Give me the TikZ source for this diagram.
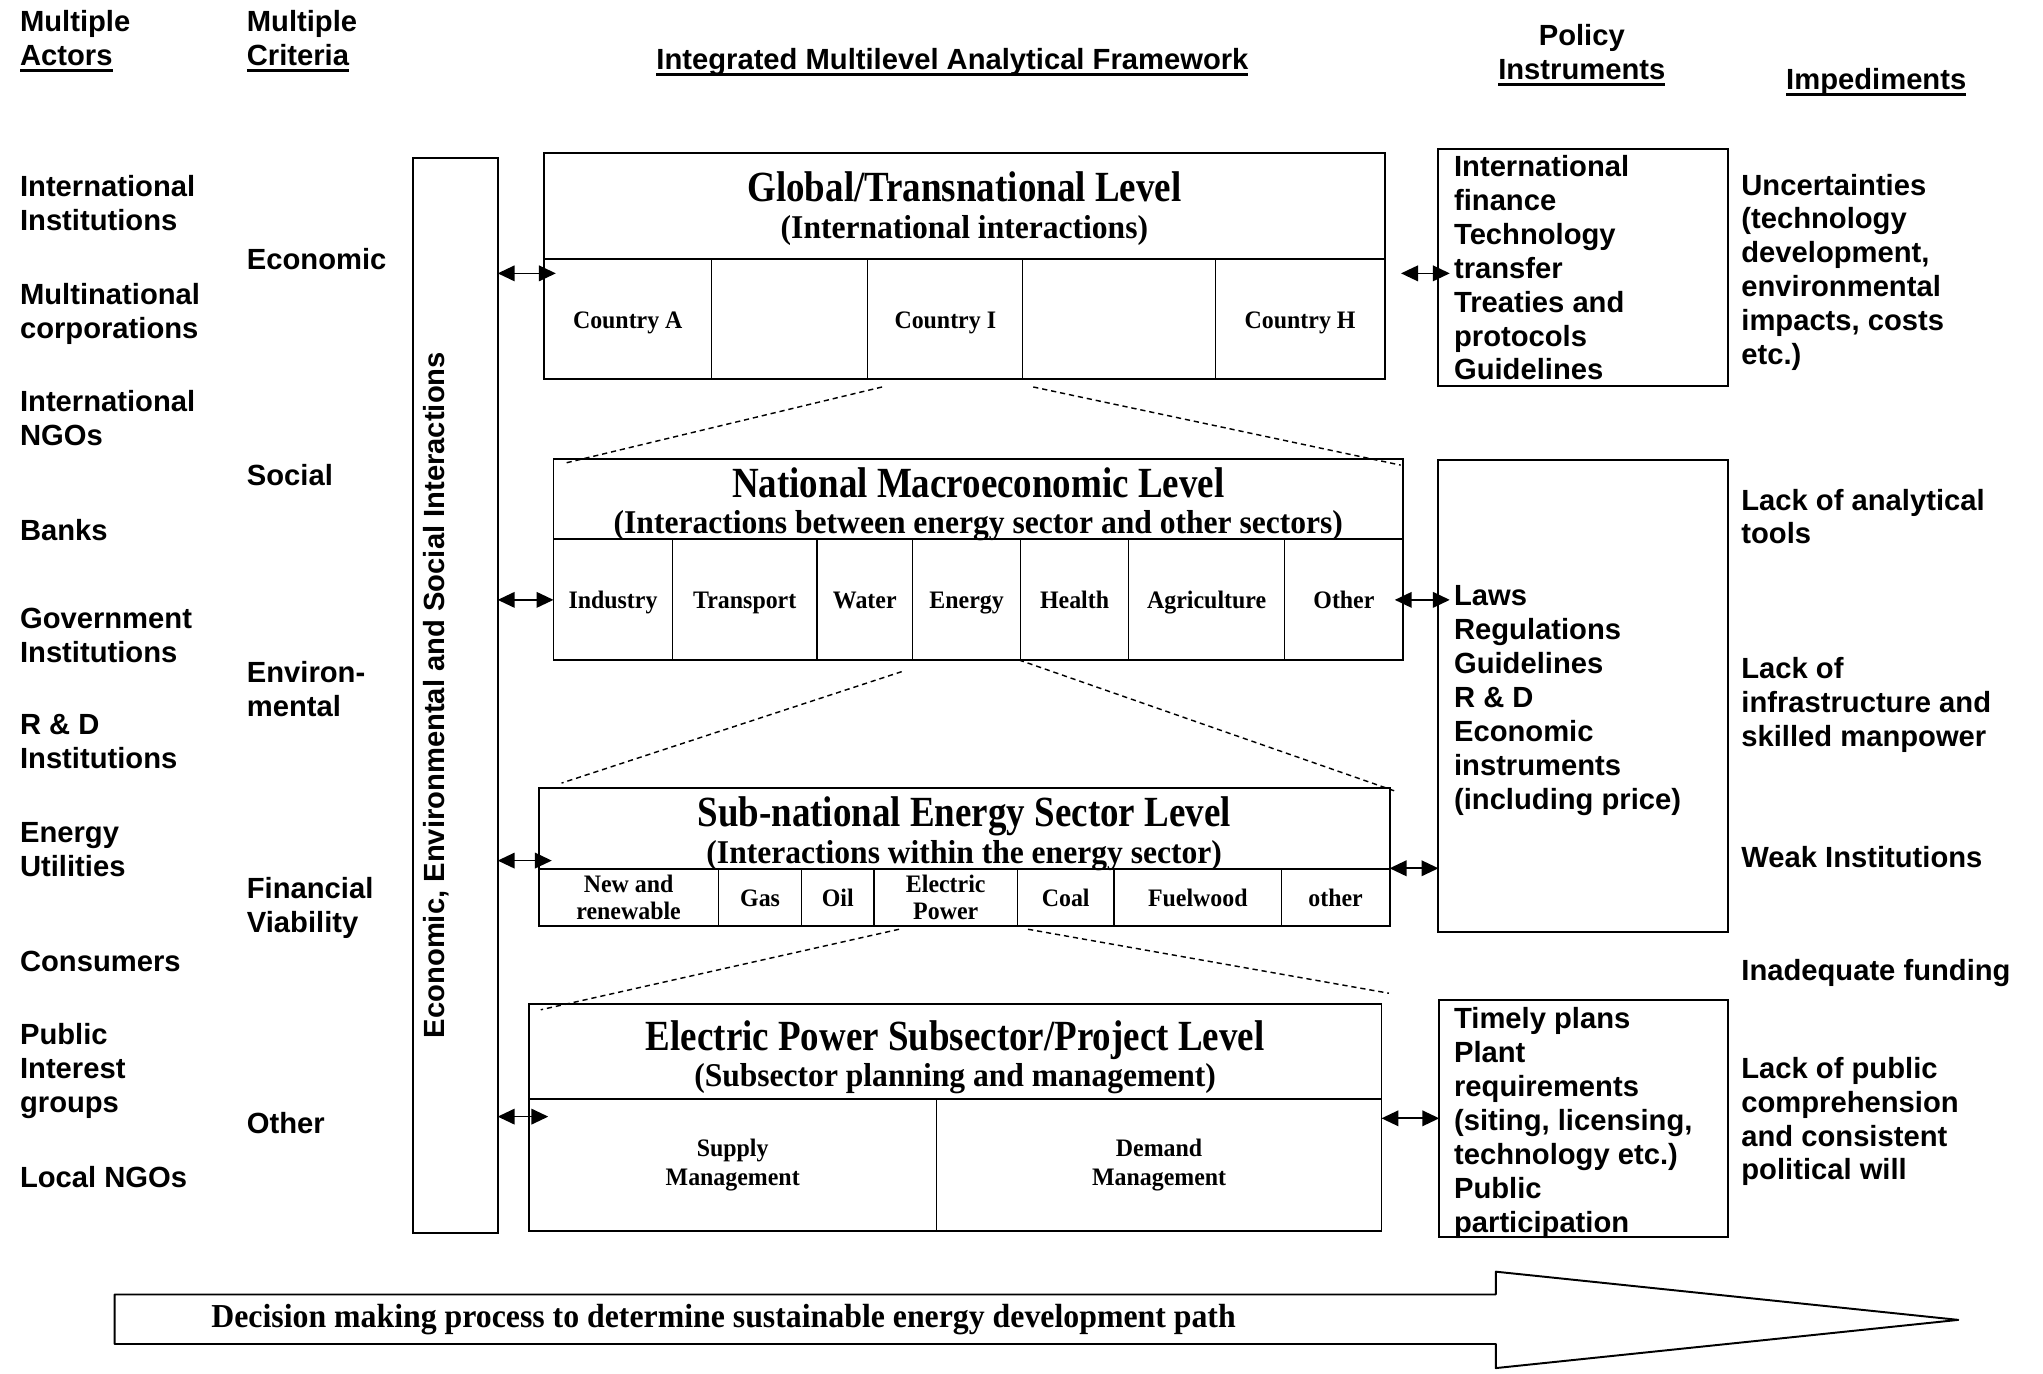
\documentclass[tikz,border=0pt]{standalone}
\usepackage{fontspec}
\setmainfont{Liberation Sans}
\newfontfamily\hvb{Liberation Sans}
\newfontfamily\tmsttl[FakeStretch=0.86]{Liberation Serif}
\newfontfamily\tmstxt[FakeStretch=0.95]{Liberation Serif}
\usetikzlibrary{arrows.meta}

% underline drawn as a rule just below the baseline
\newcommand\ulin[1]{\setbox0=\hbox{#1}\rlap{\rule[-0.22em]{\wd0}{0.1em}}\box0}
% rectangle node given by its corners: style, name, x1, y1, x2, y2, text
\newcommand\cellat[7]{%
  \pgfmathsetmacro\cW{#5-#3}\pgfmathsetmacro\cH{#6-#4}%
  \pgfmathsetmacro\cX{(#3+#5)/2}\pgfmathsetmacro\cY{(#4+#6)/2}%
  \node[#1, minimum width=\cW pt, minimum height=\cH pt] (#2) at (\cX,\cY) {#7};}

\tikzset{
  sans/.style={font=\hvb\bfseries\fontsize{22.4pt}{26pt}\selectfont, inner sep=0pt, outer sep=0pt},
  col/.style={sans, align=left, anchor=north west, yshift=-2pt, execute at begin node=\strut},
  colc/.style={sans, align=center, anchor=north, yshift=-2pt, execute at begin node=\strut},
  hdr/.style={sans, anchor=base},
  cell/.style={draw, line width=1pt, inner sep=0pt, outer sep=0pt, align=center,
    font=\tmstxt\bfseries\fontsize{19.3pt}{22pt}\selectfont},
  cell1/.style={cell, text height=14pt, text depth=0pt},
  cell2/.style={cell, font=\tmstxt\bfseries\fontsize{19.3pt}{21pt}\selectfont},
  frame/.style={draw, line width=1.5pt, inner sep=0pt, outer sep=0pt},
  ttl/.style={font=\tmsttl\bfseries\fontsize{33pt}{36pt}\selectfont, inner sep=0pt, anchor=base},
  subttl/.style={font=\tmstxt\bfseries\fontsize{25.5pt}{28pt}\selectfont, inner sep=0pt, anchor=base},
  divl/.style={line width=1.5pt},
  link/.style={line width=1.3pt, {Triangle[length=13pt,width=12pt]}-{Triangle[length=13pt,width=12pt]}},
  levellink/.style={line width=1.1pt, dash pattern=on 4pt off 3pt},
}

\begin{document}
\begin{tikzpicture}[x=1pt,y=-1pt]
\path[use as bounding box, fill=white] (0,0) rectangle (1568,1054);

% ---------- column headers ----------
\node[col] (h-act) at (15.4,6.1) {Multiple\\\ulin{Actors}};
\node[col] (h-crit) at (189.5,6.1) {Multiple\\\ulin{Criteria}};
\node[hdr] (h-frame) at (731,53.5) {\ulin{Integrated Multilevel Analytical Framework}};
\node[colc] (h-pol) at (1214,16.5) {Policy\\\ulin{Instruments}};
\node[hdr] (h-imp) at (1440,68.5) {\ulin{Impediments}};

% ---------- actors ----------
\node[col] (a1) at (15.4,132.8) {International\\Institutions};
\node[col] (a2) at (15.4,215.5) {Multinational\\corporations};
\node[col] (a3) at (15.4,297.8) {International\\NGOs};
\node[col] (a4) at (15.4,394.5) {Banks};
\node[col] (a5) at (15.4,464.5) {Government\\Institutions};
\node[col] (a6) at (15.4,546.5) {R \& D\\Institutions};
\node[col] (a7) at (15.4,629.5) {Energy\\Utilities};
\node[col] (a8) at (15.4,725.5) {Consumers};
\node[col] (a9) at (15.4,783.5) {Public\\Interest\\groups};
\node[col] (a10) at (15.4,891.5) {Local NGOs};

% ---------- criteria ----------
\node[col] (c1) at (189.5,186.5) {Economic};
\node[col] (c2) at (189.5,352.5) {Social};
\node[col] (c3) at (189.5,505.5) {Environ-\\mental};
\node[col] (c4) at (189.5,671.5) {Financial\\Viability};
\node[col] (c5) at (189.5,849.5) {Other};

% ---------- interactions bar ----------
\cellat{frame}{vbox}{317}{121}{382}{946}{}
\node[sans, rotate=90, anchor=base] (vtxt) at (341,533.5) {Economic, Environmental and Social Interactions};

% ---------- global / transnational level ----------
\cellat{cell1}{gl-a}{417.6}{199}{546}{291}{Country A}
\cellat{cell1}{gl-b}{546}{199}{666}{291}{}
\cellat{cell1}{gl-i}{666}{199}{785}{291}{Country I}
\cellat{cell1}{gl-d}{785}{199}{933}{291}{}
\cellat{cell1}{gl-h}{933}{199}{1062.7}{291}{Country H}
\cellat{frame}{gl}{417.6}{117.2}{1062.7}{291}{}
\draw[divl] (gl-a.north west) -- (gl-h.north east);
\node[ttl] (gl-t) at (740.15,155) {Global/Transnational Level};
\node[subttl] (gl-s) at (740.15,183) {(International interactions)};

% ---------- national macroeconomic level ----------
\cellat{cell1}{na-1}{424.8}{414}{516.2}{506.3}{Industry}
\cellat{cell1}{na-2}{516.2}{414}{627}{506.3}{Transport}
\cellat{cell1}{na-3}{627}{414}{700.4}{506.3}{Water}
\cellat{cell1}{na-4}{700.4}{414}{783.3}{506.3}{Energy}
\cellat{cell1}{na-5}{783.3}{414}{866.2}{506.3}{Health}
\cellat{cell1}{na-6}{866.2}{414}{986}{506.3}{Agriculture}
\cellat{cell1}{na-7}{986}{414}{1076.9}{506.3}{Other}
\cellat{frame}{na}{424.8}{352.5}{1076.9}{506.3}{}
\draw[divl] (na-1.north west) -- (na-7.north east);
\node[ttl] (na-t) at (750.85,381.5) {National Macroeconomic Level};
\node[subttl] (na-s) at (750.85,409.5) {(Interactions between energy sector and other sectors)};

% ---------- sub-national energy sector level ----------
\cellat{cell2}{sn-1}{413.5}{667}{551.4}{710.7}{New and\\renewable}
\cellat{cell1}{sn-2}{551.4}{667}{615.3}{710.7}{Gas}
\cellat{cell1}{sn-3}{615.3}{667}{670.7}{710.7}{Oil}
\cellat{cell2}{sn-4}{670.7}{667}{781}{710.7}{Electric\\Power}
\cellat{cell1}{sn-5}{781}{667}{854.9}{710.7}{Coal}
\cellat{cell1}{sn-6}{854.9}{667}{983.7}{710.7}{Fuelwood}
\cellat{cell1}{sn-7}{983.7}{667}{1066.5}{710.7}{other}
\cellat{frame}{sn}{413.5}{605}{1066.5}{710.7}{}
\draw[divl] (sn-1.north west) -- (sn-7.north east);
\node[ttl] (sn-t) at (740,634.5) {Sub-national Energy Sector Level};
\node[subttl] (sn-s) at (740,662.5) {(Interactions within the energy sector)};

% ---------- electric power subsector / project level ----------
\cellat{cell}{ep-s}{405.8}{843.7}{718.9}{944.5}{Supply\\Management}
\cellat{cell}{ep-d}{718.9}{843.7}{1060.3}{944.5}{Demand\\Management}
\cellat{frame}{ep}{405.8}{770.5}{1060.3}{944.5}{}
\draw[divl] (ep-s.north west) -- (ep-d.north east);
\node[ttl] (ep-t) at (733.05,806) {Electric Power Subsector/Project Level};
\node[subttl] (ep-s2) at (733.05,834) {(Subsector planning and management)};

% ---------- dashed links between levels ----------
\coordinate (d1s) at (677,297);   \coordinate (d1e) at (433,355.6);
\coordinate (d2s) at (793,297);   \coordinate (d2e) at (1075,357);
\coordinate (d3s) at (692,515.5); \coordinate (d3e) at (431,601);
\coordinate (d4s) at (782,506.5); \coordinate (d4e) at (1072,607.6);
\coordinate (d5s) at (690,713.2); \coordinate (d5e) at (415,775);
\coordinate (d6s) at (789,713.2); \coordinate (d6e) at (1066,762.3);
\draw[levellink] (d1s) -- (d1e);
\draw[levellink] (d2s) -- (d2e);
\draw[levellink] (d3s) -- (d3e);
\draw[levellink] (d4s) -- (d4e);
\draw[levellink] (d5s) -- (d5e);
\draw[levellink] (d6s) -- (d6e);

% ---------- policy instruments ----------
\cellat{frame}{pb1}{1104}{114.4}{1326}{296.2}{}
\cellat{frame}{pb2}{1104}{353}{1326}{715}{}
\cellat{frame}{pb3}{1104.6}{767.5}{1326}{949.1}{}
\node[col] (p1) at (1116,117.4) {International\\finance\\Technology\\transfer\\Treaties and\\protocols\\Guidelines};
\node[col] (p2) at (1116,447.5) {Laws\\Regulations\\Guidelines\\R \& D\\Economic\\instruments\\(including price)};
\node[col] (p3) at (1116,771.5) {Timely plans\\Plant\\requirements\\(siting, licensing,\\technology etc.)\\Public\\participation};

% ---------- impediments ----------
\node[col] (i1) at (1336.5,131.5) {Uncertainties\\(technology\\development,\\environmental\\impacts, costs\\etc.)};
\node[col] (i2) at (1336.5,373.2) {Lack of analytical\\tools};
\node[col] (i3) at (1336.5,502.5) {Lack of\\infrastructure and\\skilled manpower};
\node[col] (i4) at (1336.5,645.5) {Weak Institutions};
\node[col] (i5) at (1336.5,732.5) {Inadequate funding};
\node[col] (i6) at (1336.5,809.4) {Lack of public\\comprehension\\and consistent\\political will};

% ---------- two-way links ----------
\coordinate (ya) at (0,209.8);
\coordinate (yb) at (0,460.4);
\coordinate (yc) at (0,660.5);
\coordinate (yd) at (0,857);
\coordinate (yc2) at (0,666.4);
\coordinate (yd2) at (0,858.3);
\draw[link, shorten >=-9pt] (vbox.east |- ya) -- (gl.west |- ya);
\draw[link] (vbox.east |- yb) -- (na.west |- yb);
\draw[link, shorten >=-10pt] (vbox.east |- yc) -- (sn.west |- yc);
\draw[link, shorten >=-15pt] (vbox.east |- yd) -- (ep.west |- yd);
\draw[link, shorten <=12.6pt, shorten >=-8.7pt] (gl.east |- ya) -- (pb1.west |- ya);
\draw[link, shorten <=-6.4pt, shorten >=-8.7pt] (na.east |- yb) -- (pb2.west |- yb);
\draw[link] (sn.east |- yc2) -- (pb2.west |- yc2);
\draw[link] (ep.east |- yd2) -- (pb3.west |- yd2);

% ---------- decision process arrow ----------
\draw[line width=1.5pt, line join=round] (88,993.5) -- (1148,993.5) -- (1148,976) -- (1503,1013)
  -- (1148,1050) -- (1148,1031.5) -- (88,1031.5) -- cycle;
\node[font=\tmstxt\bfseries\fontsize{25.7pt}{28pt}\selectfont, inner sep=0pt, anchor=base west]
  (path-t) at (162,1019) {Decision making process to determine sustainable energy development path};
\end{tikzpicture}
\end{document}
